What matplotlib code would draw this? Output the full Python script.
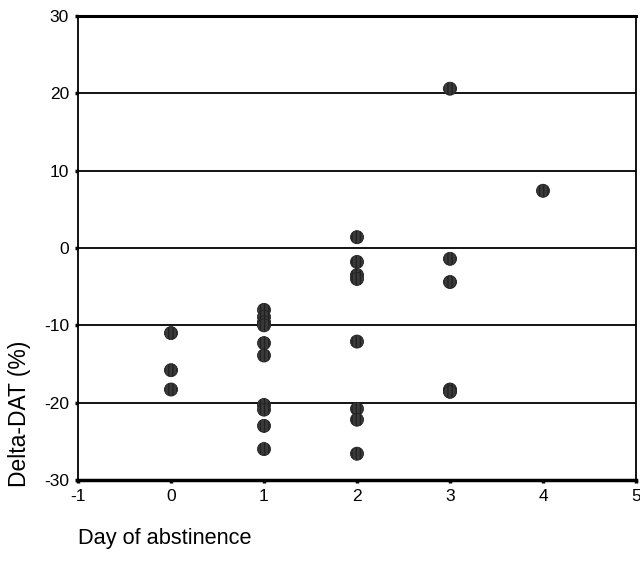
import numpy as np
import matplotlib
matplotlib.use("Agg")
import matplotlib.pyplot as plt

plt.rcParams['font.family'] = ['Liberation Sans', 'DejaVu Sans']
plt.rcParams['axes.unicode_minus'] = False
plt.rcParams['hatch.color'] = '#000000'
plt.rcParams['hatch.linewidth'] = 1.0

# days of abstinence and change in DAT (%)
day_0 = [-11.0, -15.8, -18.3]
day_1 = [-8.0, -8.9, -9.6, -10.0, -12.3, -13.9, -20.3, -20.9, -23.0, -26.0]
day_2 = [1.4, -1.8, -3.5, -4.0, -12.1, -20.8, -22.2, -26.6]
day_3 = [20.6, -1.4, -4.4, -18.3, -18.6]
day_4 = [7.4]

x_ticks = [-1, 0, 1, 2, 3, 4, 5]
y_ticks = [-30, -20, -10, 0, 10, 20, 30]

days = []
delta = []
for d, vals in enumerate([day_0, day_1, day_2, day_3, day_4]):
    days += [d] * len(vals)
    delta += vals

fig = plt.figure(figsize=(6.4, 5.64), dpi=100)
ax = fig.add_axes([78 / 640, 1 - 480 / 564, (636 - 78) / 640, (480 - 16) / 564])

for y in [-20, -10, 0, 10, 20]:
    ax.axhline(y, color='black', lw=1.3, zorder=1)

ax.scatter(days, delta, s=88, facecolor='#3a3a3a', edgecolor='#222222',
           hatch='||||', linewidths=0.6, zorder=3)

ax.set_xlim(-1, 5)
ax.set_ylim(-30, 30)
ax.set_xticks(x_ticks)
ax.set_yticks(y_ticks)
ax.tick_params(direction='out', length=2.5, width=2.5, labelsize=12.5, pad=4)

ax.spines['top'].set_linewidth(2.2)
ax.spines['bottom'].set_linewidth(2.5)
ax.spines['left'].set_linewidth(1.3)
ax.spines['right'].set_linewidth(1.3)

fig.text(20 / 640, 1 - 414 / 564, 'Delta-DAT (%)', fontsize=16.5,
         rotation=90, ha='center', va='center')
fig.text(78 / 640, 1 - 544 / 564, 'Day of abstinence', fontsize=15.7,
         ha='left', va='baseline')

fig.savefig('out.png', dpi=100)
